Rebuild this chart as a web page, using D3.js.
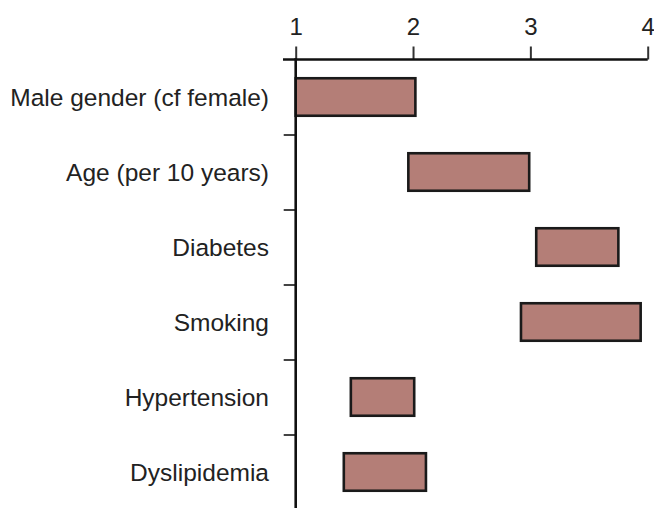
<!DOCTYPE html>
<html>
<head>
<meta charset="utf-8">
<script src="https://cdn.jsdelivr.net/npm/d3@7"></script>
<style>
html,body{margin:0;padding:0;background:#fff;}
svg{display:block;}
text{font-family:"Liberation Sans",Arial,Helvetica,sans-serif;fill:#222;}
</style>
</head>
<body>
<svg id="chart" width="654" height="508"></svg>
<script>
const categories = ["Male gender (cf female)", "Age (per 10 years)", "Diabetes", "Smoking", "Hypertension", "Dyslipidemia"];
const lowValues  = [1.0, 1.96, 3.05, 2.92, 1.47, 1.41];
const highValues = [2.02, 2.99, 3.75, 3.94, 2.01, 2.11];
const xTicks = [1, 2, 3, 4];

const svg = d3.select("#chart");
const x = d3.scaleLinear().domain([1, 4]).range([295.7, 647.7]);
const y = d3.scaleBand().domain(categories).range([59.5, 509.5]).paddingInner(0.5).paddingOuter(0.25);
const yEdge = d3.scaleLinear().domain([0, categories.length]).range([59.5, 509.5]);

// bars
svg.append("g").selectAll("rect").data(categories).join("rect")
  .attr("x", (d, i) => x(lowValues[i]))
  .attr("y", d => y(d))
  .attr("width", (d, i) => x(highValues[i]) - x(lowValues[i]))
  .attr("height", y.bandwidth())
  .attr("fill", "#b47e77")
  .attr("stroke", "#1a1a1a")
  .attr("stroke-width", 2.6);

// top axis
const xAxis = svg.append("g").attr("transform", "translate(0,59.5)")
  .call(d3.axisTop(x).tickValues(xTicks).tickFormat(d3.format("d")).tickSize(13).tickSizeOuter(0).tickPadding(12));
xAxis.select(".domain").remove();
xAxis.selectAll(".tick line").attr("stroke", "#333").attr("stroke-width", 2);
xAxis.selectAll(".tick text").style("font-size", "24px").attr("fill", "#222");
svg.append("line").attr("x1", 283).attr("x2", x(4)).attr("y1", 59.5).attr("y2", 59.5)
  .attr("stroke", "#111").attr("stroke-width", 2.6);

// left axis
const yAxis = svg.append("g").attr("transform", `translate(${x(1)},0)`)
  .call(d3.axisLeft(yEdge).tickValues(d3.range(1, categories.length)).tickFormat("").tickSize(12).tickSizeOuter(0));
yAxis.select(".domain").remove();
yAxis.selectAll(".tick line").attr("stroke", "#444").attr("stroke-width", 2);
svg.append("line").attr("x1", x(1)).attr("x2", x(1)).attr("y1", 58).attr("y2", 509.5)
  .attr("stroke", "#111").attr("stroke-width", 2.6);

// category labels
svg.append("g").selectAll("text").data(categories).join("text")
  .attr("x", 269)
  .attr("y", d => y(d) + y.bandwidth() / 2)
  .attr("dy", "0.35em")
  .attr("text-anchor", "end")
  .style("font-size", "24.5px")
  .text(d => d);
</script>
</body>
</html>
